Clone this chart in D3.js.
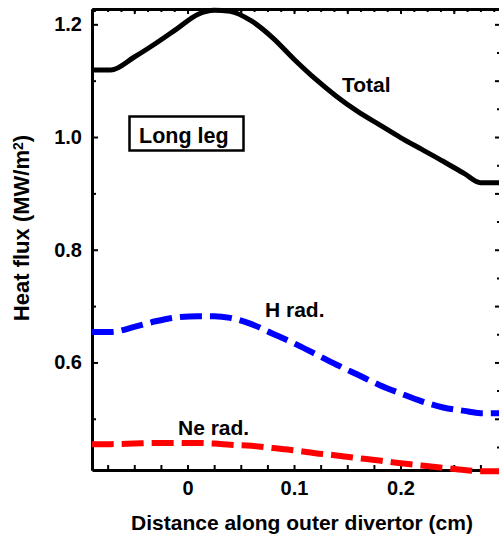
<!DOCTYPE html>
<html>
<head>
<meta charset="utf-8">
<script src="https://cdn.jsdelivr.net/npm/d3@7"></script>
<style>
  body { margin: 0; background: #fff; }
  text { font-family: "Liberation Sans", Arial, sans-serif; font-weight: bold; }
</style>
</head>
<body>
<script>
// data
var distance = [-0.09, -0.072, -0.05, -0.03, -0.01, 0.01, 0.025, 0.04, 0.06, 0.08, 0.10,
    0.12, 0.14, 0.16, 0.18, 0.20, 0.22, 0.24, 0.26, 0.275, 0.293];
var totalFlux = [1.119, 1.119, 1.142, 1.166, 1.192, 1.218, 1.225, 1.223, 1.206, 1.176, 1.138,
    1.103, 1.072, 1.045, 1.022, 0.999, 0.978, 0.957, 0.935, 0.919, 0.919];
var hRad = [0.654, 0.654, 0.663, 0.673, 0.680, 0.682, 0.682, 0.679, 0.668, 0.651, 0.634,
    0.615, 0.596, 0.578, 0.560, 0.545, 0.531, 0.520, 0.514, 0.510, 0.510];
var neRad = [0.455, 0.455, 0.456, 0.457, 0.457, 0.457, 0.456, 0.454, 0.452, 0.448, 0.444,
    0.439, 0.435, 0.430, 0.426, 0.421, 0.417, 0.413, 0.409, 0.407, 0.407];
var xTicks = [0, 0.1, 0.2];
var yTicks = [0.6, 0.8, 1.0, 1.2];

var width = 499, height = 539;
var plotLeft = 92, plotRight = 500, plotTop = 9, plotBottom = 470;

var svg = d3.select("body").append("svg")
    .attr("width", width)
    .attr("height", height);

var x = d3.scaleLinear().domain([-0.0897, 0.2934]).range([plotLeft, plotRight]);
var y = d3.scaleLinear().domain([0.4091, 1.2272]).range([plotBottom, plotTop]);

function range(a, b, step) {
    var out = [];
    for (var v = a; v <= b + 1e-9; v += step) out.push(Math.round(v * 10000) / 10000);
    return out;
}

function styleAxis(g) {
    g.select(".domain").style("stroke", "#000").style("stroke-width", 3);
    g.selectAll(".tick line").style("stroke", "#000").style("stroke-width", 2);
    g.selectAll(".tick text").style("fill", "#000").style("font-size", "20px")
        .style("font-family", "Liberation Sans, Arial, sans-serif").style("font-weight", "bold");
}

// bottom axis
var gb = svg.append("g").attr("transform", "translate(0," + plotBottom + ")")
    .call(d3.axisBottom(x).tickValues(range(-0.075, 0.275, 0.025)).tickSize(-5).tickSizeOuter(0)
        .tickPadding(11)
        .tickFormat(function (d) { return xTicks.indexOf(d) >= 0 ? d3.format("")(d) : ""; }));
styleAxis(gb);

// top axis (minor + major)
var gt = svg.append("g").attr("transform", "translate(0," + plotTop + ")")
    .call(d3.axisTop(x).tickValues(range(-0.0875, 0.2875, 0.0125)).tickSize(-3).tickSizeOuter(0).tickFormat(""));
styleAxis(gt);
var gt2 = svg.append("g").attr("transform", "translate(0," + plotTop + ")")
    .call(d3.axisTop(x).tickValues(range(-0.05, 0.25, 0.05)).tickSize(-5).tickSizeOuter(0).tickFormat(""));
styleAxis(gt2);

// left axis
var gl = svg.append("g").attr("transform", "translate(" + plotLeft + ",0)")
    .call(d3.axisLeft(y).tickValues(range(0.5, 1.1, 0.2)).tickSize(-4).tickSizeOuter(0).tickFormat(""));
styleAxis(gl);
var gl2 = svg.append("g").attr("transform", "translate(" + plotLeft + ",0)")
    .call(d3.axisLeft(y).tickValues(yTicks).tickSize(-6).tickSizeOuter(0).tickPadding(10)
        .tickFormat(d3.format(".1f")));
styleAxis(gl2);

// right axis
var gr = svg.append("g").attr("transform", "translate(" + plotRight + ",0)")
    .call(d3.axisRight(y).tickValues(range(0.45, 1.15, 0.1)).tickSize(-3).tickSizeOuter(0).tickFormat(""));
styleAxis(gr);
var gr2 = svg.append("g").attr("transform", "translate(" + plotRight + ",0)")
    .call(d3.axisRight(y).tickValues(range(0.5, 1.2, 0.1)).tickSize(-5).tickSizeOuter(0).tickFormat(""));
styleAxis(gr2);

// curves
var series = [
    { values: totalFlux, color: "#000000", width: 5, dash: null },
    { values: hRad, color: "#0000ff", width: 6, dash: "22,8" },
    { values: neRad, color: "#ff0000", width: 6, dash: "22,8" }
];

series.forEach(function (s) {
    var line = d3.line()
        .x(function (d, i) { return x(distance[i]); })
        .y(function (d) { return y(d); })
        .curve(d3.curveMonotoneX);
    svg.append("path")
        .datum(s.values)
        .attr("d", line)
        .style("fill", "none")
        .style("stroke", s.color)
        .style("stroke-width", s.width)
        .style("stroke-dasharray", s.dash);
});

// annotations
svg.append("text").attr("x", 342).attr("y", 92).style("font-size", "21px").text("Total");
svg.append("text").attr("x", 265).attr("y", 317).style("font-size", "21px").text("H rad.");
svg.append("text").attr("x", 178).attr("y", 435).style("font-size", "21px").text("Ne rad.");

svg.append("rect")
    .attr("x", 129.5).attr("y", 116.5)
    .attr("width", 114).attr("height", 34)
    .style("fill", "none").style("stroke", "#000").style("stroke-width", 2.5);
svg.append("text").attr("x", 139).attr("y", 142.5).style("font-size", "21.5px").text("Long leg");

// axis titles
svg.append("text")
    .attr("x", 302).attr("y", 530)
    .attr("text-anchor", "middle")
    .style("font-size", "21px")
    .text("Distance along outer divertor (cm)");

var yt = svg.append("text")
    .attr("transform", "translate(29,228) rotate(-90)")
    .attr("text-anchor", "middle")
    .style("font-size", "22px");
yt.append("tspan").text("Heat flux (MW/m");
yt.append("tspan").attr("dy", "-0.45em").style("font-size", "14px").text("2");
yt.append("tspan").attr("dy", "0.3em").text(")");
</script>
</body>
</html>
